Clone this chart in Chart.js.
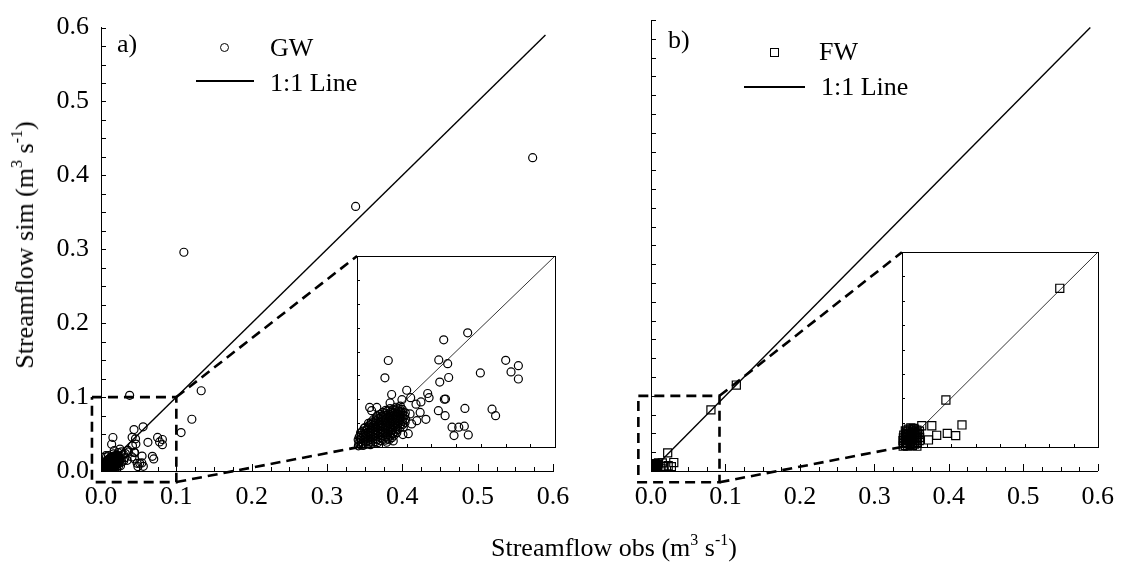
<!DOCTYPE html>
<html><head><meta charset="utf-8">
<script src="https://cdn.jsdelivr.net/npm/chart.js@4"></script>
<style>
html,body{margin:0;padding:0;background:#fff;}
#wrap{position:relative;width:1125px;height:567px;overflow:hidden;font-family:"Liberation Serif","Times New Roman",serif;color:#000;background:#fff;}
canvas{position:absolute;}
.txt{position:absolute;font-size:26px;line-height:26px;white-space:nowrap;}
.txt sup{font-size:16px;line-height:0;position:relative;top:-1px;vertical-align:super;}
.mk{position:absolute;box-sizing:border-box;}
#ytitle{left:25px;top:245px;transform:translate(-50%,-50%) rotate(-90deg);}
</style></head>
<body><div id="wrap">
<canvas id="mainA" width="600" height="567" style="left:0;top:0"></canvas>
<canvas id="mainB" width="565" height="567" style="left:560px;top:0"></canvas>
<canvas id="insetA" width="10" height="10"></canvas>
<canvas id="insetB" width="10" height="10"></canvas>

<div class="txt" style="left:117px;top:31px">a)</div>
<div class="mk" style="left:220px;top:43px;width:9px;height:9px;border:1px solid #000;border-radius:50%"></div>
<div class="txt" style="left:270px;top:35px">GW</div>
<div class="mk" style="left:196px;top:80px;width:58px;height:1.5px;background:#000"></div>
<div class="txt" style="left:270px;top:70px">1:1 Line</div>

<div class="txt" style="left:668px;top:27px">b)</div>
<div class="mk" style="left:770px;top:48px;width:9px;height:9px;border:1px solid #000"></div>
<div class="txt" style="left:819px;top:39px">FW</div>
<div class="mk" style="left:744px;top:86px;width:61px;height:1.5px;background:#000"></div>
<div class="txt" style="left:821px;top:74px">1:1 Line</div>

<div class="txt" style="left:491px;top:535px">Streamflow obs (m<sup>3</sup> s<sup>-1</sup>)</div>
<div class="txt" id="ytitle">Streamflow sim (m<sup>3</sup> s<sup>-1</sup>)</div>
</div>
<script>
// ---- axis values ----
const tickValues = [0, 0.1, 0.2, 0.3, 0.4, 0.5, 0.6];
const tickLabels = ['0.0', '0.1', '0.2', '0.3', '0.4', '0.5', '0.6'];
const minorTickStep = 0.025;
const insetMax = 0.1;
const insetTickStep = 0.0125;
const oneToOneEnd = 0.59;
const seriesNames = ['GW', 'FW'];

// ---- GW series: [observed, simulated] ----
const gwData = [
  [0.0007,0.0006],[0.0010,0.0021],[0.0006,0.0038],[0.0011,0.0052],
  [0.0019,0.0011],[0.0021,0.0027],[0.0017,0.0044],[0.0022,0.0061],[0.0018,0.0074],
  [0.0031,0.0008],[0.0029,0.0019],[0.0033,0.0035],[0.0030,0.0049],[0.0034,0.0066],[0.0028,0.0083],[0.0036,0.0097],
  [0.0043,0.0013],[0.0045,0.0029],[0.0041,0.0042],[0.0044,0.0058],[0.0042,0.0071],[0.0046,0.0089],[0.0040,0.0102],
  [0.0056,0.0017],[0.0054,0.0031],[0.0058,0.0047],[0.0055,0.0063],[0.0057,0.0078],[0.0053,0.0094],[0.0059,0.0111],[0.0058,0.0124],
  [0.0068,0.0012],[0.0070,0.0026],[0.0066,0.0041],[0.0069,0.0055],[0.0067,0.0072],[0.0071,0.0086],[0.0065,0.0101],[0.0069,0.0118],[0.0072,0.0131],
  [0.0081,0.0021],[0.0079,0.0037],[0.0083,0.0052],[0.0080,0.0067],[0.0082,0.0083],[0.0078,0.0097],[0.0084,0.0112],[0.0080,0.0127],[0.0083,0.0143],
  [0.0093,0.0028],[0.0095,0.0044],[0.0091,0.0061],[0.0094,0.0076],[0.0092,0.0091],[0.0096,0.0106],[0.0090,0.0122],[0.0094,0.0137],[0.0097,0.0152],
  [0.0106,0.0023],[0.0104,0.0039],[0.0108,0.0056],[0.0105,0.0071],[0.0107,0.0087],[0.0103,0.0102],[0.0109,0.0117],[0.0105,0.0133],[0.0108,0.0148],[0.0102,0.0162],
  [0.0118,0.0034],[0.0120,0.0049],[0.0116,0.0066],[0.0119,0.0082],[0.0117,0.0097],[0.0121,0.0113],[0.0115,0.0128],[0.0119,0.0144],[0.0122,0.0159],[0.0117,0.0171],
  [0.0131,0.0041],[0.0129,0.0058],[0.0133,0.0073],[0.0130,0.0089],[0.0132,0.0105],[0.0128,0.0121],[0.0134,0.0136],[0.0130,0.0152],[0.0133,0.0167],[0.0129,0.0181],
  [0.0143,0.0036],[0.0145,0.0052],[0.0141,0.0068],[0.0144,0.0084],[0.0142,0.0099],[0.0146,0.0115],[0.0140,0.0131],[0.0144,0.0147],[0.0147,0.0163],[0.0142,0.0178],[0.0145,0.0192],
  [0.0150,0.0025],[0.0163,0.0038],[0.0176,0.0049],[0.0188,0.0062],[0.0201,0.0075],
  [0.0156,0.0047],[0.0154,0.0063],[0.0158,0.0079],[0.0155,0.0094],[0.0157,0.0111],[0.0153,0.0126],[0.0159,0.0142],[0.0155,0.0158],[0.0158,0.0173],[0.0154,0.0188],
  [0.0168,0.0058],[0.0170,0.0074],[0.0166,0.0091],[0.0169,0.0106],[0.0167,0.0122],[0.0171,0.0138],[0.0165,0.0153],[0.0169,0.0169],[0.0172,0.0184],[0.0167,0.0201],
  [0.0181,0.0069],[0.0179,0.0086],[0.0183,0.0102],[0.0180,0.0117],[0.0182,0.0133],[0.0178,0.0149],[0.0184,0.0164],[0.0180,0.0181],[0.0183,0.0197],
  [0.0193,0.0081],[0.0195,0.0097],[0.0191,0.0113],[0.0194,0.0129],[0.0192,0.0146],[0.0196,0.0161],[0.0190,0.0177],[0.0194,0.0193],[0.0197,0.0208],
  [0.0206,0.0092],[0.0204,0.0108],[0.0208,0.0124],[0.0205,0.0141],[0.0207,0.0156],[0.0203,0.0172],[0.0209,0.0188],[0.0205,0.0203],
  [0.0218,0.0104],[0.0220,0.0121],[0.0216,0.0137],[0.0219,0.0152],[0.0217,0.0168],[0.0221,0.0184],[0.0215,0.0199],[0.0219,0.0214],
  [0.0231,0.0118],[0.0229,0.0134],[0.0233,0.0151],[0.0230,0.0166],[0.0232,0.0182],[0.0228,0.0197],
  [0.0243,0.0129],[0.0245,0.0146],[0.0241,0.0163],[0.0244,0.0179],
  [0.0227,0.0248],[0.0271,0.0258],[0.0298,0.0224],[0.0302,0.0138],[0.0276,0.0121],[0.0259,0.0070],
  [0.0167,0.0231],[0.0100,0.0207],[0.0074,0.0190],
  [0.0559,0.0598],[0.0438,0.0561],[0.0158,0.0453],[0.0413,0.0456],[0.0458,0.0436],[0.0751,0.0454],
  [0.0815,0.0426],[0.0778,0.0393],[0.0815,0.0356],[0.0623,0.0388],[0.0141,0.0362],[0.0463,0.0364],
  [0.0418,0.0340],[0.0251,0.0297],[0.0357,0.0280],[0.0364,0.0258],[0.0441,0.0250],[0.0447,0.0251],
  [0.0323,0.0236],[0.0545,0.0202],[0.0682,0.0198],[0.0700,0.0164],[0.0411,0.0190],[0.0445,0.0164],
  [0.0348,0.0145],[0.0480,0.0104],[0.0514,0.0104],[0.0542,0.0109],[0.0490,0.0060],[0.0562,0.0063],
  [0.0319,0.0181],[0.0175,0.0275],[0.0064,0.0207],[0.0268,0.0173],[0.0234,0.0104],[0.0232,0.0065],
  [0.0183,0.0032],
  [0.0380,0.1024],[0.1063,0.0520],[0.1206,0.0700],[0.1330,0.1086],[0.1100,0.2960],[0.3380,0.3580],[0.5730,0.4240]
];

// ---- FW series: [observed, simulated] ----
const fwData = [
  [0.0006,0.0004],[0.0008,0.0018],[0.0005,0.0033],[0.0007,0.0047],[0.0009,0.0061],
  [0.0017,0.0009],[0.0019,0.0024],[0.0016,0.0039],[0.0018,0.0054],[0.0020,0.0069],[0.0017,0.0083],
  [0.0029,0.0005],[0.0027,0.0019],[0.0030,0.0034],[0.0028,0.0049],[0.0031,0.0063],[0.0029,0.0078],[0.0032,0.0092],
  [0.0041,0.0012],[0.0043,0.0027],[0.0040,0.0042],[0.0042,0.0057],[0.0044,0.0072],[0.0041,0.0087],[0.0045,0.0098],
  [0.0053,0.0008],[0.0055,0.0022],[0.0052,0.0037],[0.0054,0.0052],[0.0056,0.0066],[0.0053,0.0081],[0.0057,0.0095],
  [0.0064,0.0015],[0.0066,0.0031],[0.0063,0.0046],[0.0065,0.0061],[0.0067,0.0076],[0.0064,0.0091],
  [0.0076,0.0004],[0.0078,0.0024],[0.0075,0.0041],[0.0077,0.0056],[0.0079,0.0071],[0.0076,0.0086],
  [0.0088,0.0033],[0.0090,0.0049],[0.0087,0.0065],[0.0089,0.0081],
  [0.0101,0.0109],[0.0152,0.0109],[0.0306,0.0113],[0.0231,0.0070],[0.0274,0.0058],[0.0177,0.0060],
  [0.0135,0.0036],[0.0224,0.0241],[0.0805,0.0814],[0.1146,0.1144]
];

// ---- layout (positions / decorations, not data) ----
const LAYOUT = {
  A: {canvas:'mainA', inset:'insetA', left:0, width:600, yAxisWidth:101, padRight:47, yLabels:true,
      box:{x0:-0.012, x1:0.1, y0:-0.015, y1:0.1}, region:{x0:0.34, x1:0.603, y0:0.032, y1:0.291}},
  B: {canvas:'mainB', inset:'insetB', left:560, width:565, yAxisWidth:91, padRight:20, yLabels:false,
      box:{x0:-0.017, x1:0.092, y0:-0.015, y1:0.1}, region:{x0:0.337, x1:0.6, y0:0.032, y1:0.291}}
};
const FONT = {family:'"Liberation Serif","Times New Roman",serif', size:26};
const MARK = {circle:{r:4, w:1.2}, rect:{r:5.7, w:1.2}};

const toPts = arr => arr.map(p => ({x:p[0], y:p[1]}));

const innerTicks = {
  id:'innerTicks',
  afterDraw(chart, args, o) {
    if (!o || !o.step) return;
    const {ctx, chartArea:a, scales:{x, y}} = chart;
    ctx.save();
    ctx.strokeStyle = '#000'; ctx.lineWidth = 1;
    const n = Math.round((o.max - o.min) / o.step);
    for (let k = 0; k <= n; k++) {
      const v = o.min + k * o.step;
      const major = o.major ? Math.abs(v / o.major - Math.round(v / o.major)) < 1e-6 : false;
      const px = Math.round(x.getPixelForValue(v)) + 0.5;
      const lx = major ? o.xMajor : o.xMinor;
      ctx.beginPath(); ctx.moveTo(px, a.bottom); ctx.lineTo(px, a.bottom - lx); ctx.stroke();
      const py = Math.round(y.getPixelForValue(v)) + 0.5;
      const ly = major ? o.yMajor : o.yMinor;
      ctx.beginPath(); ctx.moveTo(a.left, py); ctx.lineTo(a.left + ly, py); ctx.stroke();
    }
    if (o.frame) {
      ctx.strokeRect(Math.round(a.left) + 0.5, Math.round(a.top) + 0.5,
                     Math.round(a.right - a.left), Math.round(a.bottom - a.top));
    }
    ctx.restore();
  }
};

function makeMain(key, data, shape, label) {
  const L = LAYOUT[key];
  const b = L.box, r = L.region, m = MARK[shape];
  return new Chart(document.getElementById(L.canvas), {
    type:'scatter',
    data:{datasets:[
      {label:label, data:toPts(data), pointStyle:shape, pointRadius:m.r, borderWidth:m.w,
       borderColor:'#000', backgroundColor:'rgba(0,0,0,0)', order:0},
      {label:'1:1 Line', data:[{x:0,y:0},{x:oneToOneEnd,y:oneToOneEnd}], showLine:true,
       borderColor:'#000', borderWidth:1.4, pointRadius:0, order:1},
      {label:'zoom box', data:[{x:b.x0,y:b.y1},{x:b.x1,y:b.y1},{x:b.x1,y:b.y0},{x:b.x0,y:b.y0},{x:b.x0,y:b.y1}],
       showLine:true, borderColor:'#000', borderWidth:2.6, borderDash:[10,6], pointRadius:0, clip:false, order:2},
      {label:'connector top', data:[{x:b.x1,y:b.y1},{x:r.x0,y:r.y1}], showLine:true,
       borderColor:'#000', borderWidth:2.6, borderDash:[10,6], pointRadius:0, clip:false, order:2},
      {label:'connector bottom', data:[{x:b.x1,y:b.y0},{x:r.x0,y:r.y0}], showLine:true,
       borderColor:'#000', borderWidth:2.6, borderDash:[10,6], pointRadius:0, clip:false, order:2}
    ]},
    options:{
      responsive:false, animation:false, events:[],
      layout:{padding:{left:0, top:20, right:L.padRight, bottom:0}},
      plugins:{legend:{display:false}, tooltip:{enabled:false},
        innerTicks:{min:0, max:0.6, step:minorTickStep, major:0.1, xMajor:7, xMinor:4, yMajor:5, yMinor:5}},
      scales:{
        x:{type:'linear', min:0, max:0.6,
           afterBuildTicks:s => { s.ticks = tickValues.map(v => ({value:v})); },
           ticks:{callback:(v,i) => tickLabels[i], font:FONT, color:'#000', padding:11, autoSkip:false, maxRotation:0},
           grid:{display:false, drawTicks:false},
           border:{display:true, color:'#000', width:1},
           afterFit:s => { s.height = 96; }},
        y:{type:'linear', min:0, max:0.6,
           afterBuildTicks:s => { s.ticks = tickValues.map(v => ({value:v})); },
           ticks:{display:L.yLabels, callback:(v,i) => tickLabels[i], font:FONT, color:'#000', padding:12, autoSkip:false},
           grid:{display:false, drawTicks:false},
           border:{display:true, color:'#000', width:1},
           afterFit:s => { s.width = L.yAxisWidth; }}
      }
    },
    plugins:[innerTicks]
  });
}

function makeInset(key, main, data, shape, label) {
  const L = LAYOUT[key], r = L.region, m = MARK[shape];
  const xs = main.scales.x, ys = main.scales.y;
  const l = Math.round(xs.getPixelForValue(r.x0)), rt = Math.round(xs.getPixelForValue(r.x1));
  const t = Math.round(ys.getPixelForValue(r.y1)), bt = Math.round(ys.getPixelForValue(r.y0));
  const pad = 8;
  const cv = document.getElementById(L.inset);
  cv.width = rt - l + 2 * pad; cv.height = bt - t + 2 * pad;
  cv.style.left = (L.left + l - pad) + 'px'; cv.style.top = (t - pad) + 'px';
  const inside = data.filter(p => p[0] <= insetMax && p[1] <= insetMax);
  return new Chart(cv, {
    type:'scatter',
    data:{datasets:[
      {label:label, data:toPts(inside), pointStyle:shape, pointRadius:m.r, borderWidth:m.w,
       borderColor:'#000', backgroundColor:'rgba(0,0,0,0)', clip:false, order:0},
      {label:'1:1 Line', data:[{x:0,y:0},{x:insetMax,y:insetMax}], showLine:true,
       borderColor:'#000', borderWidth:0.8, pointRadius:0, order:1}
    ]},
    options:{
      responsive:false, animation:false, events:[],
      layout:{padding:pad},
      plugins:{legend:{display:false}, tooltip:{enabled:false},
        innerTicks:{min:0, max:insetMax, step:insetTickStep, major:0, xMajor:3, xMinor:3, yMajor:3, yMinor:3, frame:true}},
      scales:{
        x:{type:'linear', display:false, min:0, max:insetMax},
        y:{type:'linear', display:false, min:0, max:insetMax}
      }
    },
    plugins:[innerTicks]
  });
}

const mainA = makeMain('A', gwData, 'circle', seriesNames[0]);
const mainB = makeMain('B', fwData, 'rect', seriesNames[1]);
makeInset('A', mainA, gwData, 'circle', seriesNames[0]);
makeInset('B', mainB, fwData, 'rect', seriesNames[1]);
</script>
</body></html>
